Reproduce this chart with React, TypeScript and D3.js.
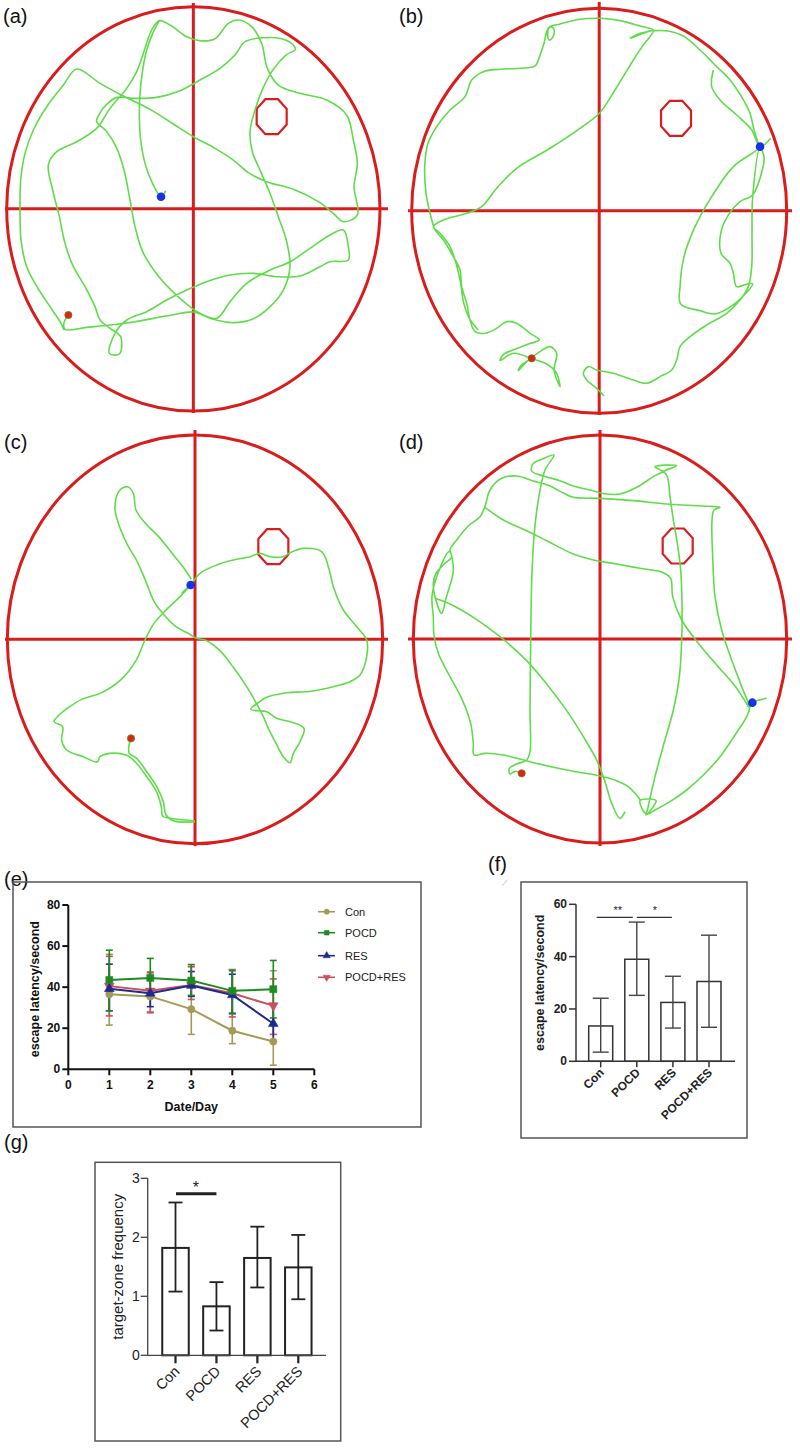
import React from "react";
import * as d3 from "d3";

type Pt = [number, number];

const FONT = "'Liberation Sans', Arial, Helvetica, sans-serif";
const RED = "#d91c1c";
const GREEN = "#5fdc4a";
const BLUE = "#1432e6";

// ---------------- Panels (a)-(d): swim tracks, tracking-camera units ----------------
const extentA: number[] = [20, 1140, 20, 1233];
const extentB: number[] = [35, 1160, 25, 1240];
const extentC: number[] = [22, 1148, 75, 1301];
const extentD: number[] = [40, 1160, 75, 1299];

const platformA: number[] = [815, 350, 90, 105];
const platformB: number[] = [828, 355, 90, 105];
const platformC: number[] = [820, 410, 90, 105];
const platformD: number[] = [833, 408, 90, 105];

const startA: Pt = [205, 945];
const startB: Pt = [395, 1075];
const startC: Pt = [393, 985];
const startD: Pt = [365, 1090];

const endA: Pt = [483, 590];
const endB: Pt = [1080, 440];
const endC: Pt = [572, 525];
const endD: Pt = [1057, 878];

const trackA: Pt[][] = [
  [[205,945],[192,968],[195,988],[260,982],[330,975],[400,966],[460,955],[520,944],[580,936],[640,958],[700,968],[760,956],[808,922],[850,870],[870,800],[860,725],[835,650],[808,575],[782,515],[757,455],[750,395],[765,330],[790,262],[822,205],[858,165],[886,148],[872,128],[845,116],[790,113],[735,125],[705,165],[660,205],[600,240],[540,272],[470,292],[400,295],[350,292],[318,315],[296,345],[290,365],[318,392],[348,440],[372,510],[390,600],[405,680],[428,755],[465,815],[515,872],[560,912],[600,940],[650,955],[690,905],[740,850],[800,815],[870,785],[930,745],[990,705],[1030,690],[1045,740],[1045,780],[990,785],[960,800],[900,828],[830,830],[760,820],[690,825],[620,845],[560,870],[500,900],[440,935],[380,960],[345,1000],[328,1060],[358,1062],[362,1010],[330,985],[300,960],[285,920],[255,860],[220,800],[195,730],[178,650],[158,570],[145,495],[170,455],[230,425],[290,385],[330,325],[380,265],[410,215],[430,160],[455,90],[478,62],[515,78],[560,110],[600,122],[645,116],[685,70],[715,60],[755,80],[785,130],[802,205],[835,255],[900,280],[980,300],[1040,345],[1060,420],[1072,490],[1062,560],[1072,645],[1030,665],[1000,640],[955,605],[880,568],[800,545],[745,518],[700,480],[645,445],[580,410],[520,372],[450,328],[370,288],[300,250],[230,207],[190,255],[140,320],[100,390],[75,460],[62,540],[60,620],[63,720],[80,800],[112,862],[150,920],[180,965],[192,990]],
  [[478,62],[458,100],[440,150],[428,210],[420,280],[418,350],[422,420],[435,490],[455,545],[483,590],[497,572]],
];

const trackB: Pt[][] = [
  [[395,1075],[360,1100],[355,1112],[380,1085],[420,1055],[450,1040],[470,1060],[462,1110],[480,1160],[470,1120],[440,1092],[400,1078],[340,1060],[300,1082],[312,1062],[345,1048],[385,1032],[418,1020],[390,1000],[350,970],[320,965],[290,985],[255,1000],[225,995],[210,960],[200,910],[185,860],[180,810],[160,770],[130,720],[105,690],[98,670],[90,640],[78,580],[74,500],[84,430],[110,380],[150,330],[195,290],[215,240],[250,215],[300,208],[360,205],[405,198],[420,165],[432,130],[440,95],[450,80],[462,88],[458,112],[447,120],[443,100],[448,82],[480,72],[540,58],[600,55],[660,62],[720,78],[760,90],[720,100],[690,115],[722,103],[760,92],[730,135],[700,180],[650,262],[598,340],[540,385],[450,445],[350,505],[290,565],[245,620],[200,640],[130,660],[100,680],[120,700],[150,740],[168,790],[182,850],[190,905],[208,955],[235,990]],
  [[760,92],[805,93],[850,108],[900,150],[945,195],[990,240],[1030,300],[1050,340],[1062,390],[1075,430],[1080,440],[1000,500],[935,590],[885,680],[852,770],[840,860],[842,912],[900,932],[945,942],[995,918],[1032,886],[1058,852],[1042,852],[1010,860],[1000,820],[990,790],[963,760],[962,700],[982,650],[1020,605],[1058,585],[1088,505],[1092,470],[1080,445],[1058,590],[1056,700],[1055,800],[1045,860],[1020,900],[980,940],[920,975],[870,1010],[840,1040],[830,1080],[815,1110],[780,1130],[740,1150],[700,1140],[640,1120],[590,1110],[565,1100],[550,1120],[560,1140],[590,1165],[612,1188]],
  [[940,210],[935,260],[960,300],[1010,345],[1055,390],[1080,440],[1112,415]],
];

const trackC: Pt[][] = [
  [[393,985],[387,1005],[388,1030],[410,1045],[440,1085],[470,1130],[490,1175],[498,1215],[520,1232],[585,1236]],
  [[585,1232],[520,1226],[488,1218],[484,1190],[468,1142],[438,1097],[408,1058],[380,1036],[330,1030],[300,1040],[292,1056],[250,1040],[200,1020],[185,990],[188,950],[162,935],[172,920],[205,893],[245,868],[300,850],[360,812],[408,752],[435,690],[462,640],[500,598],[540,560],[572,525],[600,490],[650,465],[700,450],[750,440],[780,430],[810,440],[850,440],[870,428],[910,415],[965,425],[985,470],[1000,530],[1030,600],[1070,650],[1100,690],[1100,740],[1080,795],[1050,815],[1000,830],[920,845],[860,848],[800,862],[775,878],[752,898],[800,905],[830,925],[870,935],[912,955],[900,995],[880,1030],[870,1058],[850,1040],[828,1000],[805,955],[790,920],[768,878],[740,830],[700,772],[660,722],[620,692],[590,685],[568,672],[528,650],[490,612],[460,570],[440,520],[410,452],[380,400],[352,330],[345,292],[358,242],[383,230],[400,250],[408,300],[438,342],[478,382],[518,432],[550,472],[574,508]],
  [[572,525],[558,537],[545,550]],
];

const trackD: Pt[][] = [
  [[365,1090],[345,1084],[330,1092],[328,1075],[348,1063],[380,1050],[390,1025],[390,900],[392,700],[395,520],[402,380],[415,270],[435,180],[462,135],[425,148],[400,160],[395,183],[430,198],[480,212],[520,228],[570,240],[620,252],[660,252],[710,232],[760,200],[795,182],[830,167],[765,170],[790,185],[802,200],[810,260],[820,330],[832,400],[842,480],[846,580],[845,690],[838,800],[820,900],[792,1000],[765,1100],[742,1200],[738,1215],[768,1172],[720,1172],[740,1212],[765,1200],[810,1175],[860,1140],[910,1095],[960,1040],[1005,975],[1040,920],[1048,895],[1025,830],[995,750],[965,660],[945,560],[938,440],[936,330],[942,300],[960,292],[905,288],[800,282],[700,272],[600,265],[520,262],[492,250],[445,226],[400,213],[350,198],[305,205],[270,240],[255,290],[240,320],[205,348],[170,390],[150,420],[155,440],[130,465],[108,490],[100,520],[104,555],[125,610],[138,565],[160,480],[148,425],[112,495],[96,560],[100,620],[102,675],[115,730],[150,800],[185,865],[212,940],[220,1000],[222,1035],[255,1030],[310,1035],[400,1058],[500,1080],[600,1098],[650,1112],[685,1130],[705,1150],[722,1172]],
  [[255,292],[310,330],[380,362],[440,392],[520,432],[580,450],[650,462],[720,475],[790,488],[812,505],[818,560],[845,630],[895,700],[950,765],[1005,828],[1045,890]],
  [[105,565],[150,582],[220,622],[300,680],[380,752],[440,822],[500,902],[550,980],[590,1050],[615,1115],[635,1180],[660,1225],[675,1205]],
  [[1048,895],[1057,878],[1100,865]],
];

// ---------------- Panel (e): escape latency over days ----------------
const days: number[] = [1, 2, 3, 4, 5];
const eXTicks: number[] = [0, 1, 2, 3, 4, 5, 6];
const eYTicks: number[] = [0, 20, 40, 60, 80];

const conMean: number[] = [36.5, 35.5, 29.3, 18.8, 13.5];
const conLo: number[] = [21.5, 28, 17, 12.5, 2];
const conHi: number[] = [56, 47.5, 50, 48.5, 48];

const pocdMean: number[] = [43.5, 44.5, 43.2, 38.2, 39];
const pocdLo: number[] = [28.5, 35, 36, 27, 25];
const pocdHi: number[] = [58, 54, 51, 48, 53];

const resMean: number[] = [39.2, 37, 40.8, 36.2, 22.2];
const resLo: number[] = [28.5, 30.5, 35.5, 27.3, 14];
const resHi: number[] = [51.2, 44, 47.6, 46.3, 32];

const prMean: number[] = [40.5, 38.2, 41, 37, 31];
const prLo: number[] = [26, 27.5, 34, 25.5, 17];
const prHi: number[] = [55, 47, 50, 48.5, 44];

const seriesNames: string[] = ["Con", "POCD", "RES", "POCD+RES"];
const seriesColors: string[] = ["#a39b55", "#1d8a22", "#1f2a8e", "#c9505c"];

// ---------------- Panel (f): escape latency ----------------
const groups: string[] = ["Con", "POCD", "RES", "POCD+RES"];
const fMean: number[] = [13.5, 39, 22.5, 30.5];
const fLo: number[] = [3.5, 25.2, 12.7, 13];
const fHi: number[] = [24.1, 53.2, 32.5, 48.2];
const fTicks: number[] = [0, 20, 40, 60];

// ---------------- Panel (g): target-zone frequency ----------------
const gMean: number[] = [1.82, 0.83, 1.65, 1.49];
const gLo: number[] = [1.08, 0.42, 1.15, 0.95];
const gHi: number[] = [2.59, 1.24, 2.18, 2.04];
const gTicks: number[] = [0, 1, 2, 3];

// ---------------- layout ----------------
const ARENAS = [
  { label: "(a)", lx: 3, ly: 23, box: [6.7, 380, 6.7, 411], h: [5, 388], v: [3, 413], ext: extentA, plat: platformA, start: startA, end: endA, track: trackA },
  { label: "(b)", lx: 399, ly: 23, box: [411.7, 786.7, 8.3, 413.3], h: [408, 792], v: [2, 415], ext: extentB, plat: platformB, start: startB, end: endB, track: trackB },
  { label: "(c)", lx: 4, ly: 449, box: [7.3, 382.7, 435, 843.7], h: [5, 388], v: [430, 846], ext: extentC, plat: platformC, start: startC, end: endC, track: trackC },
  { label: "(d)", lx: 399, ly: 449, box: [413.3, 786.7, 435, 843], h: [408, 792], v: [430, 846], ext: extentD, plat: platformD, start: startD, end: endD, track: trackD },
];

function Arena({ cfg }: { cfg: any }) {
  const [x0, x1, y0, y1] = cfg.box;
  const x = d3.scaleLinear().domain([cfg.ext[0], cfg.ext[1]]).range([x0, x1]);
  const y = d3.scaleLinear().domain([cfg.ext[2], cfg.ext[3]]).range([y0, y1]);
  const cx = (x0 + x1) / 2;
  const cy = (y0 + y1) / 2;
  const line = d3
    .line<Pt>()
    .x((d) => x(d[0]))
    .y((d) => y(d[1]))
    .curve(d3.curveCatmullRom.alpha(0.5));
  const [px, py, pw, ph] = cfg.plat;
  const w = pw / 2, h = ph / 2;
  const oct: Pt[] = [
    [px - 0.42 * w, py - h], [px + 0.42 * w, py - h], [px + w, py - 0.45 * h], [px + w, py + 0.45 * h],
    [px + 0.42 * w, py + h], [px - 0.42 * w, py + h], [px - w, py + 0.45 * h], [px - w, py - 0.45 * h],
  ];
  const octStr = oct.map((p) => `${x(p[0])},${y(p[1])}`).join(" ");
  return (
    <g>
      <text x={cfg.lx} y={cfg.ly} fontSize={20} fontFamily={FONT} fill="#111">{cfg.label}</text>
      <ellipse cx={cx} cy={cy} rx={(x1 - x0) / 2} ry={(y1 - y0) / 2} fill="none" stroke={RED} strokeWidth={3} />
      <line x1={cfg.h[0]} x2={cfg.h[1]} y1={cy} y2={cy} stroke={RED} strokeWidth={3} />
      <line x1={cx} x2={cx} y1={cfg.v[0]} y2={cfg.v[1]} stroke={RED} strokeWidth={3} />
      <polygon points={octStr} fill="none" stroke={RED} strokeWidth={2.2} />
      {cfg.track.map((seg: Pt[], i: number) => (
        <path key={i} d={line(seg) || ""} fill="none" stroke={GREEN} strokeWidth={1.6} strokeLinejoin="round" />
      ))}
      <circle cx={x(cfg.start[0])} cy={y(cfg.start[1])} r={3.6} fill="#d42a14" stroke="#8a6a1c" strokeWidth={0.8} />
      <circle cx={x(cfg.end[0])} cy={y(cfg.end[1])} r={4.3} fill={BLUE} />
    </g>
  );
}

function Marker({ kind, x, y, color, size }: { kind: number; x: number; y: number; color: string; size: number }) {
  const types = [d3.symbolCircle, d3.symbolSquare, d3.symbolTriangle, d3.symbolTriangle];
  const sym = d3.symbol().type(types[kind]).size(size)() || "";
  const rot = kind === 3 ? 180 : 0;
  return <path d={sym} transform={`translate(${x},${y}) rotate(${rot})`} fill={color} stroke={color} strokeWidth={0.5} />;
}

function PanelE() {
  const x = d3.scaleLinear().domain([0, 6]).range([68.3, 314.3]);
  const y = d3.scaleLinear().domain([0, 80]).range([1069.3, 905]);
  const means = [conMean, pocdMean, resMean, prMean];
  const los = [conLo, pocdLo, resLo, prLo];
  const his = [conHi, pocdHi, resHi, prHi];
  const order = [0, 3, 2, 1];
  const line = d3.line<number>().x((_, i) => x(days[i])).y((d) => y(d));
  return (
    <g fontFamily={FONT}>
      <text x={4} y={886} fontSize={20} fill="#111">(e)</text>
      <rect x={13} y={882} width={408} height={245} fill="none" stroke="#555" strokeWidth={1.5} />
      {order.map((s) => (
        <g key={"eb" + s} stroke={seriesColors[s]} strokeWidth={1.6}>
          {days.map((d, i) => (
            <g key={i}>
              <line x1={x(d)} x2={x(d)} y1={y(los[s][i])} y2={y(his[s][i])} />
              <line x1={x(d) - 3.5} x2={x(d) + 3.5} y1={y(his[s][i])} y2={y(his[s][i])} />
              <line x1={x(d) - 3.5} x2={x(d) + 3.5} y1={y(los[s][i])} y2={y(los[s][i])} />
            </g>
          ))}
        </g>
      ))}
      {order.map((s) => (
        <g key={"ln" + s}>
          <path d={line(means[s]) || ""} fill="none" stroke={seriesColors[s]} strokeWidth={2} />
          {days.map((d, i) => (
            <Marker key={i} kind={s} x={x(d)} y={y(means[s][i])} color={seriesColors[s]} size={s === 1 ? 50 : 42} />
          ))}
        </g>
      ))}
      {/* axes */}
      <line x1={x(0)} x2={x(0)} y1={y(0)} y2={y(80)} stroke="#111" strokeWidth={2} />
      <line x1={x(0)} x2={x(6)} y1={y(0)} y2={y(0)} stroke="#111" strokeWidth={2} />
      {eYTicks.map((t) => (
        <g key={t}>
          <line x1={x(0) - 6} x2={x(0)} y1={y(t)} y2={y(t)} stroke="#111" strokeWidth={2} />
          <text x={x(0) - 8} y={y(t) + 4} fontSize={12} fontWeight="bold" textAnchor="end" fill="#111">{t}</text>
        </g>
      ))}
      {eXTicks.map((t) => (
        <g key={t}>
          <line x1={x(t)} x2={x(t)} y1={y(0)} y2={y(0) + 6} stroke="#111" strokeWidth={2} />
          <text x={x(t)} y={y(0) + 20} fontSize={12} fontWeight="bold" textAnchor="middle" fill="#111">{t}</text>
        </g>
      ))}
      <text x={x(3)} y={1111} fontSize={12.5} fontWeight="bold" textAnchor="middle" fill="#111">Date/Day</text>
      <text transform={`translate(39,${(y(0) + y(80)) / 2 + 2}) rotate(-90)`} fontSize={12.5} fontWeight="bold" textAnchor="middle" fill="#111">
        escape latency/second
      </text>
      {/* legend */}
      {seriesNames.map((n, i) => {
        const ly = [911.7, 932.7, 955.7, 977.3][i];
        return (
          <g key={n}>
            <line x1={318} x2={335} y1={ly} y2={ly} stroke={seriesColors[i]} strokeWidth={1.6} />
            <Marker kind={i} x={326.7} y={ly} color={seriesColors[i]} size={22} />
            <text x={345} y={ly + 4} fontSize={11} fill="#222">{n}</text>
          </g>
        );
      })}
    </g>
  );
}

function PanelF() {
  const x = d3.scalePoint<string>().domain(groups).range([600.7, 709]);
  const y = d3.scaleLinear().domain([0, 60]).range([1061.3, 904.3]);
  const bw = 24;
  const yAxisX = 576;
  return (
    <g fontFamily={FONT}>
      <text x={488} y={871} fontSize={20} fill="#111">(f)</text>
      <line x1={502} x2={507} y1={886} y2={880} stroke="#c8c8c8" strokeWidth={1} />
      <rect x={521} y={882} width={226} height={256} fill="none" stroke="#555" strokeWidth={1.5} />
      {groups.map((g, i) => {
        const cx = x(g) as number;
        return (
          <g key={g}>
            <rect x={cx - bw / 2} y={y(fMean[i])} width={bw} height={y(0) - y(fMean[i])} fill="#fff" stroke="#333" strokeWidth={1.5} />
            <line x1={cx} x2={cx} y1={y(fLo[i])} y2={y(fHi[i])} stroke="#444" strokeWidth={1.4} />
            <line x1={cx - 8} x2={cx + 8} y1={y(fHi[i])} y2={y(fHi[i])} stroke="#444" strokeWidth={1.4} />
            <line x1={cx - 8} x2={cx + 8} y1={y(fLo[i])} y2={y(fLo[i])} stroke="#444" strokeWidth={1.4} />
            <line x1={cx} x2={cx} y1={y(0)} y2={y(0) + 6} stroke="#333" strokeWidth={1.5} />
            <text transform={`translate(${cx + 4},${y(0) + 12}) rotate(-45)`} fontSize={12} fontWeight="bold" textAnchor="end" fill="#222">{g}</text>
          </g>
        );
      })}
      <line x1={yAxisX} x2={yAxisX} y1={y(0)} y2={y(60)} stroke="#333" strokeWidth={1.5} />
      <line x1={yAxisX} x2={735} y1={y(0)} y2={y(0)} stroke="#333" strokeWidth={1.5} />
      {fTicks.map((t) => (
        <g key={t}>
          <line x1={yAxisX - 7} x2={yAxisX} y1={y(t)} y2={y(t)} stroke="#333" strokeWidth={1.5} />
          <text x={yAxisX - 9} y={y(t) + 4} fontSize={12} fontWeight="bold" textAnchor="end" fill="#222">{t}</text>
        </g>
      ))}
      <text transform={`translate(544,${(y(0) + y(60)) / 2}) rotate(-90)`} fontSize={12.5} fontWeight="bold" textAnchor="middle" fill="#222">
        escape latency/second
      </text>
      {/* significance */}
      <line x1={(x("Con") as number) - 4} x2={(x("POCD") as number) - 4} y1={y(55)} y2={y(55)} stroke="#333" strokeWidth={1.3} />
      <text x={((x("Con") as number) + (x("POCD") as number)) / 2 - 1} y={y(55) - 3} fontSize={11} textAnchor="middle" fill="#222">**</text>
      <line x1={x("POCD") as number} x2={(x("RES") as number) - 1} y1={y(55)} y2={y(55)} stroke="#333" strokeWidth={1.3} />
      <text x={((x("POCD") as number) + (x("RES") as number)) / 2} y={y(55) - 3} fontSize={11} textAnchor="middle" fill="#222">*</text>
    </g>
  );
}

function PanelG() {
  const x = d3.scalePoint<string>().domain(groups).range([175.5, 298.3]);
  const y = d3.scaleLinear().domain([0, 3]).range([1355.3, 1178.3]);
  const bw = 26.5;
  const yAxisX = 147.7;
  return (
    <g fontFamily={FONT}>
      <text x={4} y={1149} fontSize={20} fill="#111">(g)</text>
      <rect x={95} y={1162.3} width={245.7} height={278.7} fill="none" stroke="#555" strokeWidth={1.5} />
      {groups.map((g, i) => {
        const cx = x(g) as number;
        return (
          <g key={g}>
            <rect x={cx - bw / 2} y={y(gMean[i])} width={bw} height={y(0) - y(gMean[i])} fill="#fff" stroke="#222" strokeWidth={2} />
            <line x1={cx} x2={cx} y1={y(gLo[i])} y2={y(gHi[i])} stroke="#222" strokeWidth={1.8} />
            <line x1={cx - 7} x2={cx + 7} y1={y(gHi[i])} y2={y(gHi[i])} stroke="#222" strokeWidth={1.8} />
            <line x1={cx - 7} x2={cx + 7} y1={y(gLo[i])} y2={y(gLo[i])} stroke="#222" strokeWidth={1.8} />
            <line x1={cx} x2={cx} y1={y(0)} y2={y(0) + 8} stroke="#222" strokeWidth={2.2} />
            <text transform={`translate(${cx + 5},${y(0) + 17}) rotate(-45)`} fontSize={14.5} textAnchor="end" fill="#222">{g}</text>
          </g>
        );
      })}
      <line x1={yAxisX} x2={yAxisX} y1={y(0)} y2={y(3)} stroke="#444" strokeWidth={1.3} />
      <line x1={yAxisX} x2={326} y1={y(0)} y2={y(0)} stroke="#444" strokeWidth={1.3} />
      {gTicks.map((t) => (
        <g key={t}>
          <line x1={yAxisX - 7} x2={yAxisX} y1={y(t)} y2={y(t)} stroke="#444" strokeWidth={1.3} />
          <text x={yAxisX - 8} y={y(t) + 5} fontSize={14} textAnchor="end" fill="#222">{t}</text>
        </g>
      ))}
      <text transform={`translate(123,${(y(0) + y(3)) / 2}) rotate(-90)`} fontSize={15} textAnchor="middle" fill="#222">
        target-zone frequency
      </text>
      <line x1={(x("Con") as number) + 0.5} x2={(x("POCD") as number)} y1={y(2.74)} y2={y(2.74)} stroke="#222" strokeWidth={3} />
      <text x={((x("Con") as number) + (x("POCD") as number)) / 2} y={y(2.74) - 1} fontSize={16} textAnchor="middle" fill="#222">*</text>
    </g>
  );
}

export default function App() {
  return (
    <svg width={800} height={1450} viewBox="0 0 800 1450" style={{ position: "absolute", left: 0, top: 0, background: "#fff" }}>
      <rect width={800} height={1450} fill="#fff" />
      {ARENAS.map((a) => (
        <Arena key={a.label} cfg={a} />
      ))}
      <PanelE />
      <PanelF />
      <PanelG />
    </svg>
  );
}
